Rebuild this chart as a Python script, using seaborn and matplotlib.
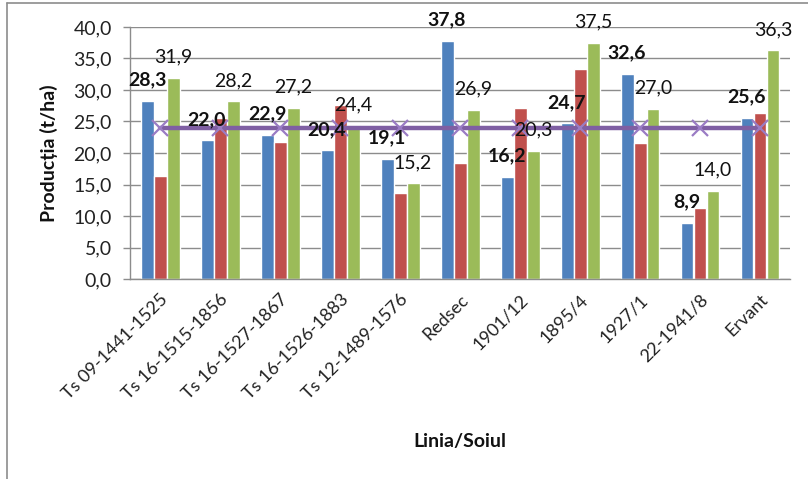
import numpy as np
import pandas as pd
import matplotlib
matplotlib.use("Agg")
import matplotlib.pyplot as plt
import matplotlib.lines as mlines
import seaborn as sns

categories = ["Ts 09-1441-1525", "Ts 16-1515-1856", "Ts 16-1527-1867",
              "Ts 16-1526-1883", "Ts 12-1489-1576", "Redsec", "1901/12",
              "1895/4", "1927/1", "22-1941/8", "Ervant"]
series_names = ["Seria 1", "Seria 2", "Seria 3"]
blue_vals = [28.3, 22.0, 22.9, 20.4, 19.1, 37.8, 16.2, 24.7, 32.6, 8.9, 25.6]
red_vals = [16.3, 25.6, 21.8, 27.6, 13.6, 18.4, 27.1, 33.3, 21.6, 11.3, 26.3]
green_vals = [31.9, 28.2, 27.2, 24.4, 15.2, 26.9, 20.3, 37.5, 27.0, 14.0, 36.3]
mean_vals = [24.0, 24.0, 24.0, 24.0, 24.0, 24.0, 24.0, 24.0, 24.0, 24.0, 24.0]
y_ticks = [0, 5, 10, 15, 20, 25, 30, 35, 40]

sns.set_theme(style="white")
plt.rcParams["font.family"] = ["Lato", "DejaVu Sans"]

FS = 14

df = pd.DataFrame({
    "Linia": categories * 3,
    "Serie": [series_names[0]] * 11 + [series_names[1]] * 11 + [series_names[2]] * 11,
    "Productia": blue_vals + red_vals + green_vals,
})

fig = plt.figure(figsize=(8.08, 4.79), dpi=100)
ax = fig.add_axes([130 / 808, 1 - 279 / 479, 660 / 808, 252 / 479])

palette = ["#4F81BD", "#C0504D", "#9BBB59"]
sns.barplot(data=df, x="Linia", y="Productia", hue="Serie", order=categories,
            hue_order=series_names, palette=palette, width=0.65, gap=0,
            saturation=1, errorbar=None, legend=False, ax=ax, zorder=2)

# mean line with cross markers
sns.lineplot(x=np.arange(len(categories)), y=mean_vals, ax=ax, color="#7F5FA3",
             linewidth=3.2, zorder=4)
ax.plot(np.arange(len(categories)), mean_vals, linestyle="none", marker="x",
        markersize=11, markeredgewidth=1.6, color="#9A7CC4", zorder=5)

# value labels above blue (bold) and green bars
containers = ax.containers
for val, bar in zip(blue_vals, containers[0]):
    ax.annotate(f"{val:.1f}".replace(".", ","),
                (bar.get_x() + bar.get_width() / 2, val),
                xytext=(0, 15), textcoords="offset points", ha="center",
                va="center", fontsize=FS, fontweight="bold", color="#111111",
                zorder=6)
for val, bar in zip(green_vals, containers[2]):
    ax.annotate(f"{val:.1f}".replace(".", ","),
                (bar.get_x() + bar.get_width() / 2, val),
                xytext=(0, 15), textcoords="offset points", ha="center",
                va="center", fontsize=FS, color="#111111", zorder=6)

ax.set_xlim(-0.5, len(categories) - 0.5)
ax.set_ylim(0, 40)
ax.set_yticks(y_ticks)
ax.set_yticklabels([f"{t:.1f}".replace(".", ",") for t in y_ticks],
                   fontsize=FS, color="#222222")
ax.yaxis.grid(True, color="#8C8C8C", linewidth=1, zorder=0)
ax.set_axisbelow(True)

ax.set_xticks(np.arange(len(categories)))
ax.set_xticklabels(categories, rotation=45, ha="right", rotation_mode="anchor",
                   fontsize=13, color="#222222")
ax.set_xticks(np.arange(-0.5, len(categories), 1), minor=True)
ax.tick_params(axis="x", which="major", length=0, pad=9)
ax.tick_params(axis="x", which="minor", length=5, color="#8C8C8C", width=1,
               direction="out")
ax.tick_params(axis="y", length=5, color="#8C8C8C", width=1, direction="out",
               left=True, pad=8)

for side in ["top", "right"]:
    ax.spines[side].set_visible(False)
for side in ["left", "bottom"]:
    ax.spines[side].set_color("#8C8C8C")
    ax.spines[side].set_linewidth(1)

ax.set_xlabel("Linia/Soiul", fontsize=FS, fontweight="bold", color="#111111")
ax.set_ylabel("Producția (t/ha)", fontsize=FS, fontweight="bold",
              color="#111111")
ax.xaxis.set_label_coords(0.5, -0.61)
ax.yaxis.set_label_coords(-72 / 660, 0.5)

# chart frame
fig.add_artist(mlines.Line2D([7 / 808, 1], [1 - 3 / 479, 1 - 3 / 479],
                             color="#8C8C8C", linewidth=1.2))
fig.add_artist(mlines.Line2D([7 / 808, 7 / 808], [0, 1 - 3 / 479],
                             color="#8C8C8C", linewidth=1.2))

fig.savefig("out.png", dpi=100, facecolor="white")
